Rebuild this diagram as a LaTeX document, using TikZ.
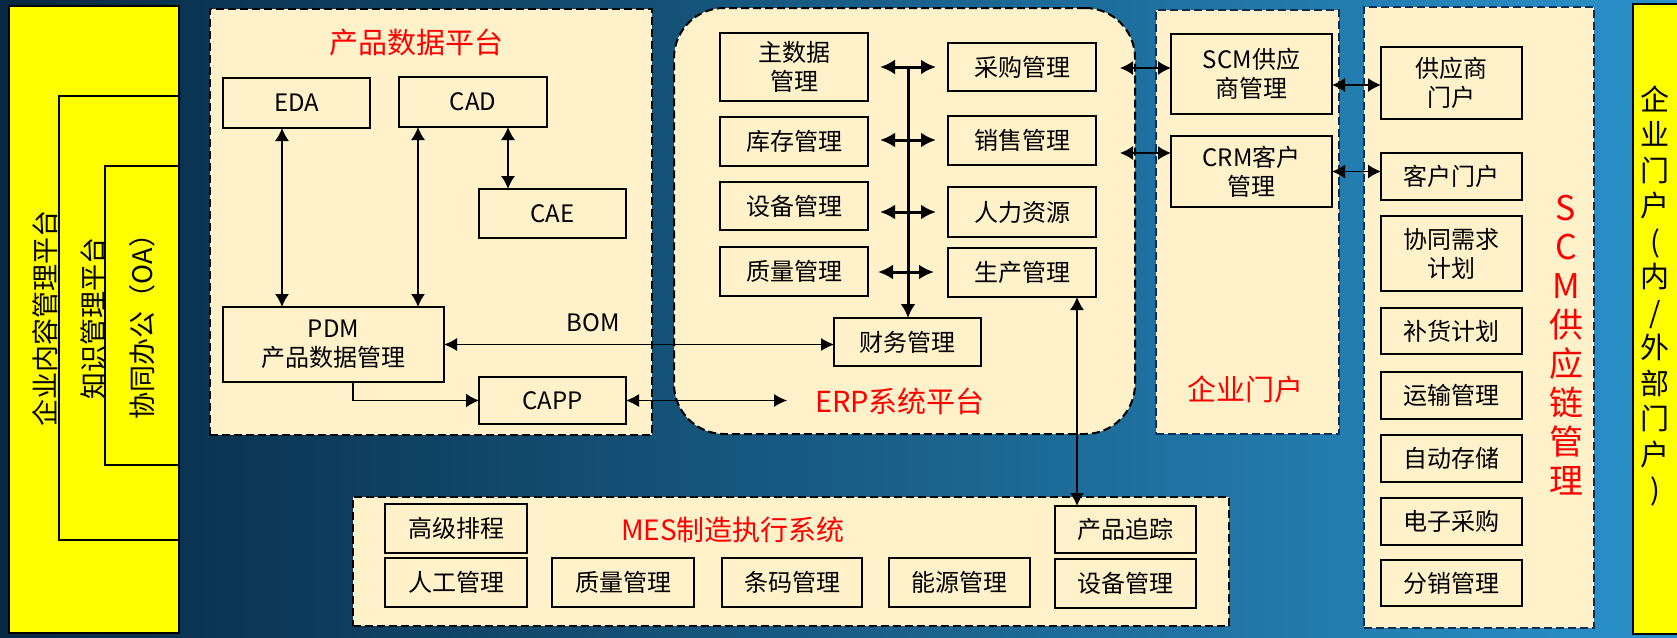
\documentclass[tikz,border=0pt]{standalone}
\usepackage{fontspec}
\setmainfont{Noto Sans CJK SC}
\usetikzlibrary{arrows.meta}
\definecolor{cream}{RGB}{255,241,202}
\definecolor{ylw}{RGB}{255,255,0}
\definecolor{bgL}{RGB}{6,40,66}
\definecolor{bgM}{RGB}{8,84,134}
\definecolor{bgR}{RGB}{42,146,202}
\definecolor{navyb}{RGB}{15,45,85}
\definecolor{redt}{RGB}{255,0,0}
\newcommand\mybox[7][bx]{%
  \pgfmathsetmacro\myBW{#5-#3}\pgfmathsetmacro\myBH{#6-#4}%
  \node[#1,minimum width=\myBW pt,minimum height=\myBH pt] (#2) at ({(#3+#5)/2},{(#4+#6)/2}) {#7};}
\tikzset{
  bx/.style={draw=black,line width=2.2pt,fill=cream,inner sep=0pt,outer sep=0pt,align=center,font=\fontsize{24}{29}\selectfont},
  yb/.style={draw=black,line width=2.2pt,fill=ylw,inner sep=0pt,outer sep=0pt},
  cont/.style={draw=black,line width=2pt,dash pattern=on 8pt off 4pt,fill=cream,inner sep=0pt,outer sep=0pt},
  contb/.style={cont,draw=navyb},
  lab/.style={text=redt,inner sep=0pt,font=\fontsize{29}{34}\selectfont},
  da/.style={line width=1.6pt,{Latex[length=13pt,width=14pt]}-{Latex[length=13pt,width=14pt]}},
  dat/.style={line width=1.2pt,{Latex[length=13pt,width=13pt]}-{Latex[length=13pt,width=13pt]}},
  sa/.style={line width=1.6pt,-{Latex[length=13pt,width=14pt]}},
  busl/.style={line width=3pt,-{Latex[length=14pt,width=15pt]}},
  busd/.style={line width=3pt,{Latex[length=15pt,width=15pt]}-{Latex[length=15pt,width=15pt]}},
  vtxt/.style={rotate=90,inner sep=0pt,font=\fontsize{27}{30}\selectfont}
}
\begin{document}
\begin{tikzpicture}[x=1pt,y=-1pt]
\useasboundingbox (0,0) rectangle (1677,637);
\shade[left color=bgL,middle color=bgM,right color=bgR] (0,0) rectangle (1677,637);

% left yellow platforms
\mybox[yb]{ecm}{9}{6}{179}{633}{}
\mybox[yb]{km}{59}{96}{179}{540}{}
\mybox[yb]{oa}{105}{166}{179}{465}{}
\node[vtxt] (ecmt) at (45.5,318) {企业内容管理平台};
\node[vtxt] (kmt) at (93,318) {知识管理平台};
\node[vtxt] (oat) at (142,320) {协同办公（OA）};

% right yellow portal
\mybox[yb]{portal}{1633}{4}{1690}{634}{}
\node[inner sep=0pt,align=center,font=\fontsize{29}{35.5}\selectfont] (portalt) at (1655,296)
  {企\\业\\门\\户\\(\\内\\/\\外\\部\\门\\户\\)};

% containers
\mybox[cont]{pdp}{210}{9}{652}{435}{}
\mybox[cont,rounded corners=50pt]{erp}{674}{8}{1135}{434}{}
\mybox[contb]{eportal}{1156}{10}{1339}{434}{}
\mybox[contb]{scmc}{1364}{7}{1594}{628}{}
\mybox[cont]{mes}{353}{497}{1229}{626}{}

% container labels
\node[lab] (pdpt) at (416,43) {产品数据平台};
\node[lab] (erpt) at (900,401) {ERP系统平台};
\node[lab] (ept) at (1245,389) {企业门户};
\node[lab,font=\fontsize{28}{32}\selectfont] (mest) at (733,530) {MES制造执行系统};
\node[lab,align=center,font=\fontsize{34}{38.9}\selectfont] (scmt) at (1566,345) {S\\C\\M\\供\\应\\链\\管\\理};

% product data platform
\mybox{eda}{223}{78}{370}{128}{EDA}
\mybox{cad}{399}{77}{547}{127}{CAD}
\mybox{cae}{479}{189}{626}{238}{CAE}
\mybox{pdm}{223}{307}{444}{382}{PDM\\产品数据管理}
\mybox{capp}{479}{377}{626}{424}{CAPP}
\node[inner sep=0pt,font=\fontsize{24}{29}\selectfont] (bom) at (593,323) {BOM};

% ERP
\mybox{zsj}{720}{33}{868}{101}{主数据\\管理}
\mybox{kc}{720}{117}{868}{166}{库存管理}
\mybox{sb}{720}{182}{868}{230}{设备管理}
\mybox{zl}{720}{247}{868}{296}{质量管理}
\mybox{cg}{948}{43}{1096}{91}{采购管理}
\mybox{xs}{948}{116}{1096}{165}{销售管理}
\mybox{rl}{948}{187}{1096}{237}{人力资源}
\mybox{sc}{948}{248}{1096}{297}{生产管理}
\mybox{cw}{834}{318}{981}{366}{财务管理}

% enterprise portal
\mybox{scm}{1171}{34}{1332}{114}{SCM供应\\商管理}
\mybox{crm}{1171}{136}{1332}{207}{CRM客户\\管理}

% SCM chain
\mybox{gys}{1381}{47}{1522}{119}{供应商\\门户}
\mybox{khmh}{1381}{153}{1522}{200}{客户门户}
\mybox{xt}{1381}{216}{1522}{291}{协同需求\\计划}
\mybox{bh}{1381}{308}{1522}{354}{补货计划}
\mybox{ys}{1381}{372}{1522}{419}{运输管理}
\mybox{zd}{1381}{435}{1522}{482}{自动存储}
\mybox{dz}{1381}{498}{1522}{545}{电子采购}
\mybox{fx}{1381}{560}{1522}{606}{分销管理}

% MES
\mybox{gjpc}{385}{504}{527}{553}{高级排程}
\mybox{rg}{385}{558}{527}{607}{人工管理}
\mybox{mzl}{552}{558}{694}{607}{质量管理}
\mybox{tm}{722}{558}{862}{607}{条码管理}
\mybox{ny}{889}{558}{1030}{607}{能源管理}
\mybox{cpzz}{1055}{506}{1196}{553}{产品追踪}
\mybox{msb}{1055}{559}{1196}{608}{设备管理}

% PDP connectors
\coordinate (a1) at ([xshift=-14.5pt]eda.south);
\draw[da] (a1) -- (a1 |- pdm.north);
\coordinate (a2) at ([xshift=-55pt]cad.south);
\draw[da] (a2) -- (a2 |- pdm.north);
\coordinate (a3) at ([xshift=35pt]cad.south);
\draw[da] (a3) -- (a3 |- cae.north);
\draw[sa] ([xshift=19.5pt]pdm.south) |- (capp.west);
\draw[dat] (pdm.east) -- (pdm.east -| cw.west);
\coordinate (capptip) at (787,400.5);
\draw[dat] (capp.east) -- (capptip);

% ERP bus
\coordinate (bustop) at (908,67);
\draw[busl] (bustop) -- (bustop |- cw.north);
\coordinate (r1a) at (880,67);  \coordinate (r1b) at (936,67);
\coordinate (r2a) at (880,140); \coordinate (r2b) at (936,140);
\coordinate (r3a) at (880,212); \coordinate (r3b) at (936,212);
\coordinate (r4a) at (878,272); \coordinate (r4b) at (934,272);
\draw[busd] (r1a) -- (r1b);
\draw[busd] (r2a) -- (r2b);
\draw[busd] (r3a) -- (r3b);
\draw[busd] (r4a) -- (r4b);

% ERP <-> MES
\coordinate (p1) at ([xshift=55pt]sc.south);
\draw[da] (p1) -- (p1 |- cpzz.north);

% ERP <-> portal
\coordinate (e1) at (1120,68);
\draw[da] (e1) -- (e1 -| scm.west);
\coordinate (e2) at (1120,153);
\draw[da] (e2) -- (e2 -| crm.west);

% portal <-> SCM
\coordinate (s1) at ([yshift=-11pt]scm.east);
\draw[da] (s1) -- (s1 -| gys.west);
\draw[da] (crm.east) -- (crm.east -| khmh.west);
\end{tikzpicture}
\end{document}
